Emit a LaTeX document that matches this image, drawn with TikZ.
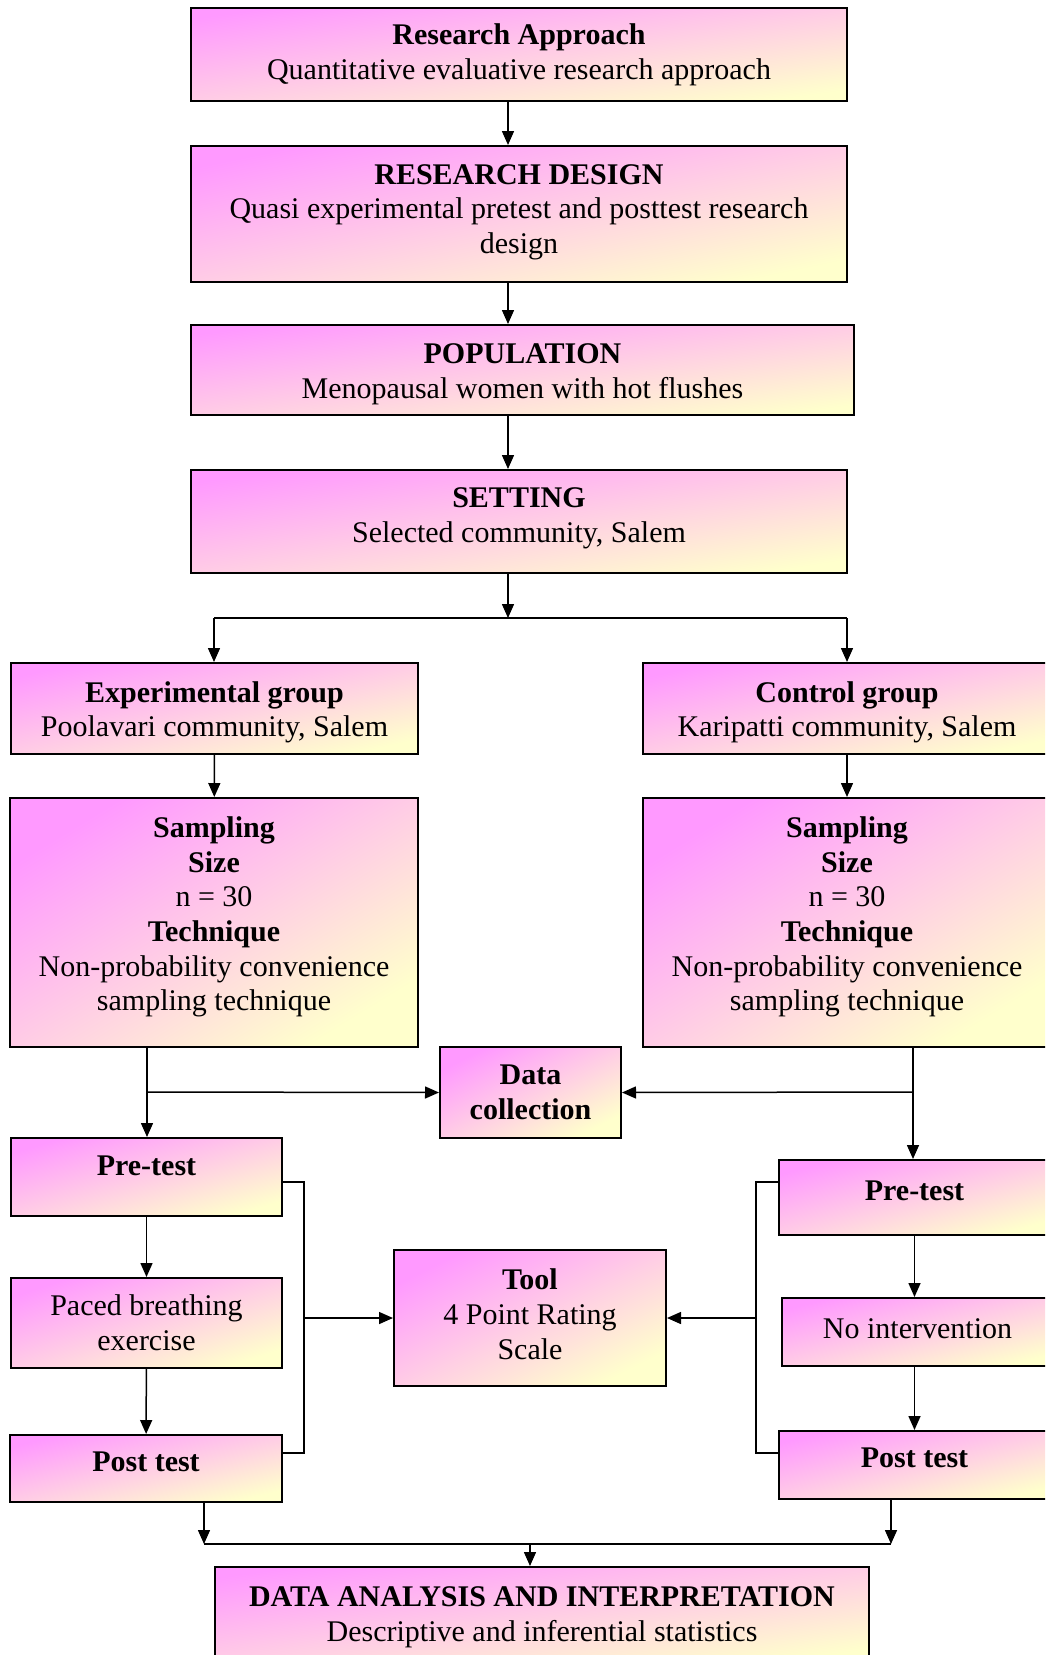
\documentclass[tikz,border=0pt]{standalone}
\usepackage{fontspec}
\setmainfont{Liberation Serif}
\usetikzlibrary{arrows.meta}
\definecolor{boxpink}{HTML}{FF99FF}
\definecolor{boxcream}{HTML}{FFFFCC}
% struts that move a box text down (first line) or up (last line)
\newcommand{\tallstrut}[1]{\rule{0pt}{#1}}
\newcommand{\deepstrut}[1]{\rule[-#1]{0pt}{0pt}}
\tikzset{
  stage/.style={draw, line width=1pt, top color=boxpink, bottom color=boxcream,
    align=center, inner sep=0pt, font=\fontsize{15}{17.3}\selectfont},
  boxdim/.code 2 args={\pgfmathsetmacro\boxang{atan(#2/#1)}%
    \edef\boxopts{minimum width=#1pt, minimum height=#2pt, shading angle=\boxang}%
    \expandafter\tikzset\expandafter{\boxopts}},
  flow/.style={line width=0.75pt, -{Triangle[length=7pt,width=6pt]}},
  link/.style={line width=0.75pt},
  hi/.style={text depth=#1}
}

\begin{document}
\begin{tikzpicture}[x=0.5pt,y=0.5pt]
			\useasboundingbox (0,0) rectangle (1045,-1655);
			\clip (0,0) rectangle (1045,-1655);
			% main chain
			\node[stage, boxdim={328}{46.5}] at (519,-54.5) (appr) {\textbf{Research Approach}\\Quantitative evaluative research approach};
			\node[stage, boxdim={328}{68}] at (519,-214) (dsgn) {\textbf{RESEARCH DESIGN}\\Quasi experimental pretest and posttest research\\design\deepstrut{5.3pt}};
			\node[stage, boxdim={331.5}{45}] at (522.5,-370) (pop) {\tallstrut{14.1pt}\textbf{POPULATION}\\Menopausal women with hot flushes};
			\node[stage, boxdim={328}{51.5}] at (519,-521.5) (set) {\textbf{SETTING}\\Selected community, Salem\deepstrut{6.3pt}};
			% groups
			\node[stage, boxdim={203.5}{45.5}] at (214.5,-708.5) (exp) {\tallstrut{14.2pt}\textbf{Experimental group}\\Poolavari community, Salem};
			\node[stage, boxdim={204}{45.5}] at (847,-708.5) (ctl) {\tallstrut{14.2pt}\textbf{Control group}\\Karipatti community, Salem};
			\node[stage, boxdim={204}{124.5}] at (214,-922.5) (exps) {\textbf{Sampling}\\\textbf{Size}\\n = 30\\\textbf{Technique}\\Non-probability convenience\\sampling technique\deepstrut{8.8pt}};
			\node[stage, boxdim={204}{124.5}] at (847,-922.5) (ctls) {\textbf{Sampling}\\\textbf{Size}\\n = 30\\\textbf{Technique}\\Non-probability convenience\\sampling technique\deepstrut{8.8pt}};
			\node[stage, boxdim={90.5}{45.5}] at (530.5,-1092.5) (dc) {\textbf{Data}\\\textbf{collection}};
			% experimental side
			\node[stage, hi=11pt, boxdim={135.5}{39}] at (146.5,-1177) (epre) {\textbf{Pre-test}};
			\node[stage, boxdim={135.5}{45}] at (146.5,-1323) (ebr) {Paced breathing\\exercise};
			\node[stage, hi=7pt, boxdim={136}{33.5}] at (146,-1468.5) (epost) {\textbf{Post test}};
			% control side
			\node[stage, hi=7pt, boxdim={135.5}{37.5}] at (914.5,-1197.5) (cpre) {\textbf{Pre-test}};
			\node[stage, hi=3pt, boxdim={135.5}{34}] at (917.5,-1332) (cni) {No intervention};
			\node[stage, hi=7pt, boxdim={135.5}{34}] at (914.5,-1465) (cpost) {\textbf{Post test}};
			\node[stage, boxdim={136}{68}] at (530,-1318) (tool) {\textbf{Tool}\\4 Point Rating\\Scale\deepstrut{4pt}};
			\node[stage, boxdim={327}{46.5}] at (542,-1613.5) (ana) {\tallstrut{13.6pt}\textbf{DATA ANALYSIS AND INTERPRETATION}\\Descriptive and inferential statistics};
			% junctions
			\coordinate (spine) at (508,0);
			\coordinate (sm) at (508,-618);
			\coordinate (sl) at (214,-618);
			\coordinate (sr) at (847,-618);
			\coordinate (cl) at (147,-1092);
			\coordinate (cr) at (913,-1092);
			\coordinate (lbrk) at (304,-1318);
			\coordinate (rbrk) at (756,-1318);
			\coordinate (jl) at (204,-1544);
			\coordinate (jr) at (891,-1544);
			\coordinate (jm) at (530,-1544);
			% connectors
			\draw[flow] (appr.south -| spine) -- (dsgn.north -| spine);
			\draw[flow] (dsgn.south -| spine) -- (pop.north -| spine);
			\draw[flow] (pop.south -| spine) -- (set.north -| spine);
			\draw[flow] (set.south -| spine) -- (sm);
			\draw[link] (sl) -- (sr);
			\draw[flow] (sl) -- (sl |- exp.north);
			\draw[flow] (sr) -- (sr |- ctl.north);
			\draw[flow] (exp) -- (exps);
			\draw[flow] (ctl) -- (ctls);
			\draw[flow] (exps.south -| cl) -- (epre.north -| cl);
			\draw[flow] (cl) -- (dc.west);
			\draw[flow] (ctls.south -| cr) -- (cpre.north -| cr);
			\draw[flow] (cr) -- (dc.east);
			\draw[flow] (epre) -- (ebr);
			\draw[flow] (ebr) -- (epost);
			\draw[flow] (cpre.south) -- (cni.north -| cpre.south);
			\draw[flow] (cni.south -| cpost.north) -- (cpost.north);
			\draw[link] (epre.east |- 0,-1182) -| (lbrk) |- (epost.east |- 0,-1453);
			\draw[flow] (lbrk) -- (tool.west);
			\draw[link] (cpre.west |- 0,-1182) -| (rbrk) |- (cpost.west |- 0,-1453);
			\draw[flow] (rbrk) -- (tool.east);
			\draw[flow] (epost.south -| jl) -- (jl);
			\draw[flow] (cpost.south -| jr) -- (jr);
			\draw[link] (jl) -- (jr);
			\draw[flow] (jm) -- (jm |- ana.north);
		\end{tikzpicture}
\end{document}
